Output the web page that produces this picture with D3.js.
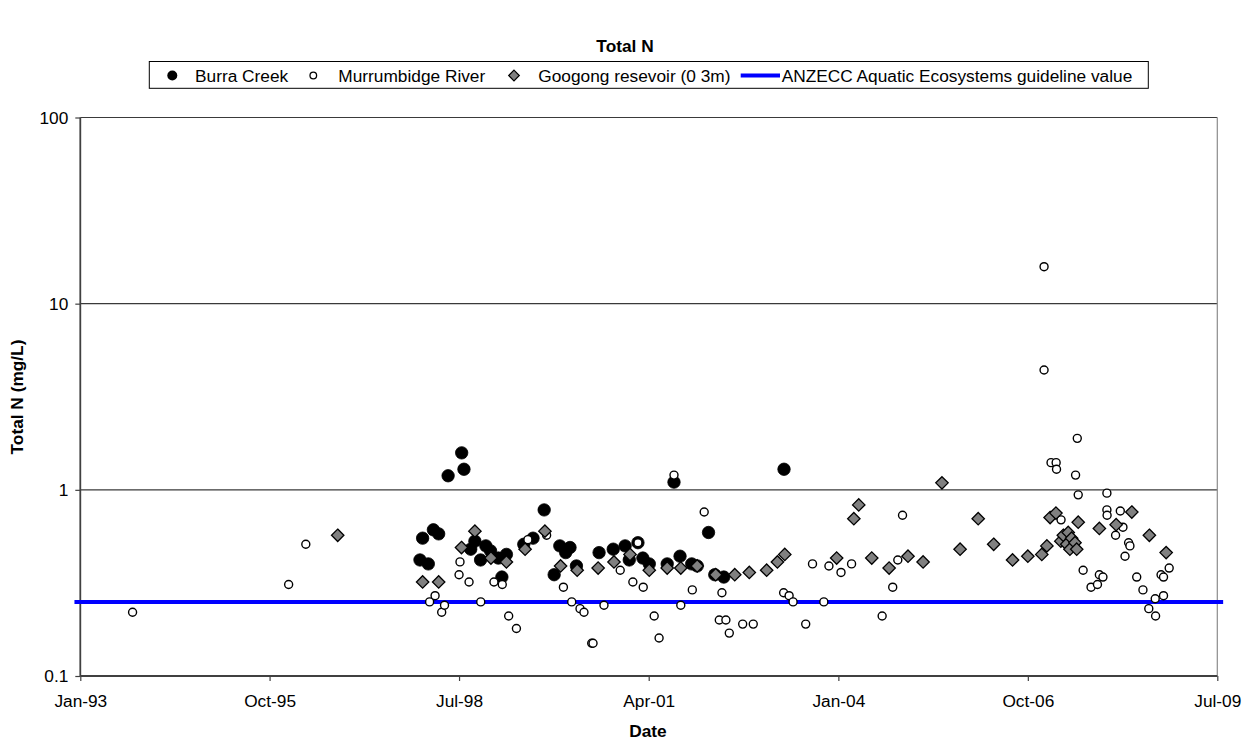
<!DOCTYPE html>
<html>
<head>
<meta charset="utf-8">
<script src="https://cdn.jsdelivr.net/npm/d3@7"></script>
<style>
  html, body { margin: 0; padding: 0; background: #fff; }
  svg { display: block; font-family: "Liberation Sans", Arial, sans-serif; }
</style>
</head>
<body>
<svg id="chart" width="1251" height="742"></svg>
<script>
// Total nitrogen samples (mg/L) by site
const burraDates = ["1997-12-06","1997-12-20","1998-01-19","1998-02-15","1998-03-15","1998-05-04","1998-07-15","1998-07-27",
  "1998-09-01","1998-09-23","1998-10-23","1998-11-20","1998-12-15","1999-01-25","1999-02-13","1999-03-09","1999-06-09",
  "1999-07-28","1999-09-25","1999-11-17","1999-12-17","2000-01-17","2000-02-09","2000-03-14","2000-07-12","2000-09-25",
  "2000-11-27","2000-12-19","2001-02-03","2001-03-01","2001-04-04","2001-07-08","2001-08-13","2001-09-14","2001-11-15",
  "2001-12-14","2002-02-12","2002-03-17","2002-05-04","2003-03-19"];
const burraValues = [0.42,0.55,0.40,0.61,0.58,1.19,1.58,1.29,
  0.48,0.53,0.42,0.50,0.47,0.43,0.34,0.45,0.51,
  0.55,0.78,0.35,0.50,0.46,0.49,0.39,0.46,0.48,
  0.50,0.42,0.52,0.43,0.40,0.40,1.10,0.44,0.40,
  0.39,0.59,0.35,0.34,1.29];

const murrDates = ["1993-10-05","1996-01-10","1996-04-10","1998-01-26","1998-02-24","1998-03-31","1998-04-15","1998-07-01",
  "1998-07-06","1998-08-23","1998-10-24","1999-01-02","1999-02-15","1999-03-21","1999-05-01","1999-07-01","1999-10-08",
  "2000-01-05","2000-02-18","2000-04-02","2000-04-23","2000-06-03","2000-06-10","2000-08-07","2000-11-01","2001-01-07",
  "2001-02-03","2001-03-03","2001-04-30","2001-05-26","2001-08-13","2001-09-18","2001-11-18","2002-01-20","2002-04-10",
  "2002-04-24","2002-05-15","2002-06-02","2002-08-12","2002-10-07","2003-03-17","2003-04-15","2003-05-06","2003-07-12",
  "2003-08-17","2003-10-16","2003-11-12","2004-01-15","2004-03-11","2004-08-20","2004-10-15","2004-11-11","2004-12-06",
  "2006-12-26","2006-12-26","2007-02-01","2007-02-28","2007-03-02","2007-03-26","2007-06-11","2007-06-20","2007-06-25",
  "2007-07-21","2007-09-01","2007-10-05","2007-10-15","2007-11-03","2007-11-24","2007-11-24","2007-11-25","2008-01-09",
  "2008-02-03","2008-02-17","2008-02-28","2008-03-18","2008-03-25","2008-04-30","2008-06-02","2008-07-03","2008-08-06",
  "2008-08-08","2008-09-06","2008-09-19","2008-09-19","2008-10-19"];
const murrValues = [0.22,0.31,0.51,0.25,0.27,0.22,0.24,0.35,
  0.41,0.32,0.25,0.32,0.31,0.21,0.18,0.54,0.57,
  0.30,0.25,0.23,0.22,0.15,0.15,0.24,0.37,0.32,
  0.52,0.30,0.21,0.16,1.20,0.24,0.29,0.76,0.20,
  0.28,0.20,0.17,0.19,0.19,0.28,0.27,0.25,0.19,
  0.40,0.25,0.39,0.36,0.40,0.21,0.30,0.42,0.73,
  15.8,4.4,1.40,1.40,1.29,0.69,1.20,1.89,0.94,
  0.37,0.30,0.31,0.35,0.34,0.96,0.78,0.73,0.57,
  0.77,0.63,0.44,0.52,0.50,0.34,0.29,0.23,0.26,
  0.21,0.35,0.34,0.27,0.38];

const googDates = ["1996-09-26","1997-12-20","1998-03-15","1998-07-14","1998-09-23","1998-12-17","1999-03-09","1999-06-16",
  "1999-09-29","1999-12-21","2000-03-18","2000-07-07","2000-09-29","2000-12-23","2001-04-04","2001-07-08","2001-09-18",
  "2001-12-14","2002-03-22","2002-07-01","2002-09-16","2002-12-17","2003-02-12","2003-03-23","2003-12-23","2004-03-23",
  "2004-04-18","2004-06-26","2004-09-26","2005-01-04","2005-03-25","2005-07-03","2005-10-07","2006-01-11","2006-04-03",
  "2006-07-12","2006-10-01","2006-12-14","2007-01-10","2007-01-27","2007-02-27","2007-03-25","2007-04-07","2007-04-25",
  "2007-05-03","2007-05-12","2007-05-21","2007-06-08","2007-06-17","2007-06-25","2007-10-15","2008-01-12","2008-04-04",
  "2008-07-06","2008-10-03"];
const googValues = [0.57,0.32,0.32,0.49,0.60,0.43,0.41,0.48,
  0.60,0.39,0.37,0.38,0.41,0.45,0.37,0.38,0.38,
  0.39,0.35,0.35,0.36,0.37,0.41,0.45,0.43,0.70,
  0.83,0.43,0.38,0.44,0.41,1.09,0.48,0.70,0.51,
  0.42,0.44,0.45,0.50,0.71,0.75,0.53,0.57,0.51,
  0.59,0.48,0.55,0.52,0.48,0.67,0.62,0.65,0.76,
  0.57,0.46];

// ANZECC guideline
const guideDates = ["1992-12-01","2009-08-01"];
const guideValue = 0.25;

const xTickDates = ["1993-01-01","1995-10-01","1998-07-01","2001-04-01","2004-01-01","2006-10-01","2009-07-01"];
const yTickValues = [0.1, 1, 10, 100];
const yTickLabels = ["0.1", "1", "10", "100"];

const seriesNames = ["Burra Creek", "Murrumbidge River", "Googong resevoir (0 3m)", "ANZECC Aquatic Ecosystems guideline value"];

const parse = d3.utcParse("%Y-%m-%d");
const FONT = 17.3;

const svg = d3.select("#chart");
const plotL = 80.3, plotR = 1217.3, plotT = 117.5, plotB = 676;

const x = d3.scaleUtc().domain([parse("1993-01-01"), parse("2009-07-01")]).range([plotL, plotR]);
const y = d3.scaleLog().domain([0.1, 100]).range([plotB, plotT]);

// Gridlines
svg.append("g").selectAll("line").data(yTickValues.filter(v => v > 0.1)).join("line")
  .attr("x1", plotL).attr("x2", plotR)
  .attr("y1", d => y(d)).attr("y2", d => y(d))
  .attr("stroke", "#3a3a3a").attr("stroke-width", 1.1);

// Right border of plot area
svg.append("line").attr("x1", plotR).attr("x2", plotR).attr("y1", plotT).attr("y2", plotB)
  .attr("stroke", "#8c8c8c").attr("stroke-width", 1.2);

// Axes
const yAxis = d3.axisLeft(y).tickValues(yTickValues)
  .tickFormat((d, i) => yTickLabels[i]).tickSize(5).tickPadding(7);
const gy = svg.append("g").attr("transform", `translate(${plotL},0)`).call(yAxis);
const xAxis = d3.axisBottom(x).tickValues(xTickDates.map(parse))
  .tickFormat(d3.utcFormat("%b-%y")).tickSize(5).tickPadding(14);
const gx = svg.append("g").attr("transform", `translate(0,${plotB})`).call(xAxis);

[gx, gy].forEach(g => {
  g.select(".domain").attr("stroke", "#404040").attr("stroke-width", 1.8);
  g.selectAll(".tick line").attr("stroke", "#404040").attr("stroke-width", 1.2);
  g.selectAll(".tick text").attr("font-size", FONT).attr("fill", "#000")
    .attr("font-family", "'Liberation Sans', Arial, sans-serif");
});
gx.select(".domain").attr("d", `M${plotL},0H${plotR}`);
gy.select(".domain").attr("d", `M0,${plotB}V${plotT}`);

// Guideline
const line = d3.line().x(d => x(parse(d))).y(() => y(guideValue));
svg.append("path").datum(guideDates).attr("d", line)
  .attr("fill", "none").attr("stroke", "#0000ff").attr("stroke-width", 4);

// Series markers
const diamond = s => `M0,${-s}L${s},0L0,${s}L${-s},0Z`;

svg.append("g").selectAll("circle").data(burraDates.map((d, i) => [d, burraValues[i]])).join("circle")
  .attr("cx", d => x(parse(d[0]))).attr("cy", d => y(d[1])).attr("r", 6.2)
  .attr("fill", "#000").attr("stroke", "#000").attr("stroke-width", 0.8);

svg.append("g").selectAll("circle").data(murrDates.map((d, i) => [d, murrValues[i]])).join("circle")
  .attr("cx", d => x(parse(d[0]))).attr("cy", d => y(d[1])).attr("r", 4)
  .attr("fill", "#fff").attr("stroke", "#000").attr("stroke-width", 1.4);

svg.append("g").selectAll("path").data(googDates.map((d, i) => [d, googValues[i]])).join("path")
  .attr("transform", d => `translate(${x(parse(d[0]))},${y(d[1])})`)
  .attr("d", diamond(6.2))
  .attr("fill", "#808080").attr("stroke", "#000").attr("stroke-width", 1.3);

// Title
svg.append("text").attr("x", 625).attr("y", 52).attr("text-anchor", "middle")
  .attr("font-size", FONT).attr("font-weight", "bold").text("Total N");

// Axis titles
svg.append("text").attr("x", 648).attr("y", 737).attr("text-anchor", "middle")
  .attr("font-size", FONT).attr("font-weight", "bold").text("Date");
svg.append("text").attr("transform", "translate(23,397) rotate(-90)").attr("text-anchor", "middle")
  .attr("font-size", FONT).attr("font-weight", "bold").text("Total N (mg/L)");

// Legend
const lg = svg.append("g");
lg.append("rect").attr("x", 149.3).attr("y", 61.5).attr("width", 999).attr("height", 26.8)
  .attr("fill", "#fff").attr("stroke", "#000").attr("stroke-width", 1);
const ly = 75.5;
lg.append("circle").attr("cx", 172.3).attr("cy", ly).attr("r", 5).attr("fill", "#000");
lg.append("circle").attr("cx", 313.3).attr("cy", ly).attr("r", 3.3)
  .attr("fill", "#fff").attr("stroke", "#000").attr("stroke-width", 1.3);
lg.append("path").attr("transform", `translate(514,${ly})`).attr("d", diamond(5.3))
  .attr("fill", "#808080").attr("stroke", "#000").attr("stroke-width", 1.2);
lg.append("line").attr("x1", 740.7).attr("x2", 780).attr("y1", ly).attr("y2", ly)
  .attr("stroke", "#0000ff").attr("stroke-width", 4);
const textX = [195, 338.3, 538.3, 781.7];
lg.selectAll("text").data(seriesNames).join("text")
  .attr("x", (d, i) => textX[i]).attr("y", 81.5)
  .attr("font-size", FONT).text(d => d);
</script>
</body>
</html>
